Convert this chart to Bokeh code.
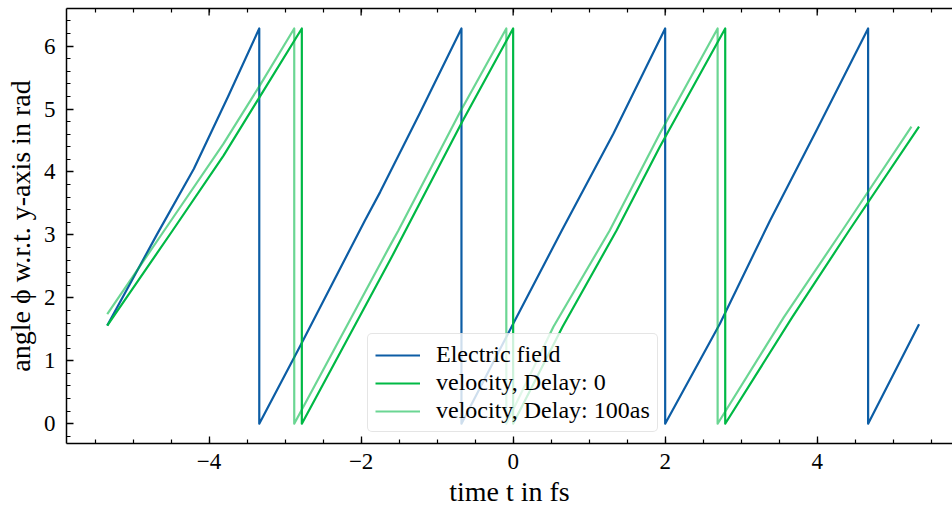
from bokeh.plotting import figure
from bokeh.models import (LinearAxis, FixedTicker, Legend, LegendItem, Range1d)
from bokeh.embed import file_html
from bokeh.resources import INLINE

# ---------------- data ----------------
# Electric field angle (rad) vs time (fs)
field_t = [-5.34, -4.68, -4.20, -3.75, -3.34, -3.34, -2.80, -1.95, -1.75, -1.23, -0.68,
           -0.68, -0.02, 0.64, 1.32, 2.00, 2.00, 2.72, 3.38, 3.99, 4.67, 4.67, 5.34]
field_phi = [1.56, 3.02, 4.05, 5.20, 6.28, 0.00, 1.24, 3.23, 3.68, 4.93, 6.28,
             0.00, 1.54, 3.07, 4.61, 6.28, 0.00, 1.59, 3.23, 4.66, 6.28, 0.00, 1.58]

# velocity angle, delay 0
vel0_t = [-5.34, -4.48, -3.81, -3.33, -2.78, -2.78, -1.61, -0.66, 0.00,
          0.00, 0.65, 1.36, 1.93, 2.79, 2.79, 3.67, 4.42, 5.34]
vel0_phi = [1.56, 3.07, 4.26, 5.20, 6.28, 0.00, 2.62, 4.82, 6.28,
            0.00, 1.54, 3.07, 4.40, 6.28, 0.00, 1.69, 3.07, 4.72]

# velocity angle, delay 100 as
vel100_t = [-5.34, -4.59, -3.81, -3.33, -2.88, -2.88, -1.62, -1.51, -0.70, -0.09,
            -0.09, 0.53, 1.27, 1.93, 2.69, 2.69, 3.56, 4.33, 5.24]
vel100_phi = [1.74, 3.07, 4.45, 5.38, 6.28, 0.00, 2.83, 3.07, 4.95, 6.28,
              0.00, 1.54, 3.07, 4.61, 6.28, 0.00, 1.69, 3.07, 4.72]

series_labels = ["Electric field", "velocity, Delay: 0", "velocity, Delay: 100as"]

x_major = [-4, -2, 0, 2, 4]
x_minor = [i * 0.5 for i in range(-12, 13)]
y_major = [0, 1, 2, 3, 4, 5, 6]
y_minor = [i * 0.2 for i in range(-2, 34)]

x_label_overrides = {-4: "\u22124", -2: "\u22122", 0: "0", 2: "2", 4: "4"}

x_title = "time t in fs"
y_title = "angle \u03d5 w.r.t. y-axis in rad"

# ---------------- styling ----------------
FONT = "Liberation Serif"
BLUE = "#0C5DA5"
GREEN = "#00B945"
Y_TOP = 6.597
MAJOR_TICK_PX = 7

p = figure(width=952, height=510, output_backend="svg", toolbar_location=None,
           x_range=Range1d(-5.876, 5.78), y_range=Range1d(-0.314, Y_TOP),
           x_axis_location=None, y_axis_location=None,
           min_border_left=66, min_border_right=0, min_border_top=8,
           min_border_bottom=67)
p.outline_line_color = None
p.xgrid.visible = False
p.ygrid.visible = False
p.background_fill_color = "white"
p.border_fill_color = "white"


def style_axis(ax):
    ax.axis_line_color = "black"
    ax.axis_line_width = 1.5
    ax.major_tick_line_color = "black"
    ax.minor_tick_line_color = "black"
    ax.major_tick_line_width = 1.3
    ax.minor_tick_line_width = 1.2
    ax.major_tick_in = MAJOR_TICK_PX
    ax.major_tick_out = 0
    ax.minor_tick_in = 4
    ax.minor_tick_out = 0
    ax.major_label_text_font = FONT
    ax.axis_label_text_font = FONT
    ax.axis_label_text_font_style = "normal"
    ax.major_label_text_color = "black"
    ax.axis_label_text_color = "black"
    ax.major_label_text_font_size = "23px"
    ax.axis_label_text_font_size = "28px"


xt = FixedTicker(ticks=x_major, minor_ticks=x_minor)
yt = FixedTicker(ticks=y_major, minor_ticks=y_minor)

xb = LinearAxis(ticker=xt, axis_label=x_title, major_label_overrides=x_label_overrides)
style_axis(xb)
xb.major_label_standoff = 10
xb.axis_label_standoff = 4
p.add_layout(xb, "below")

# top spine with inward minor ticks only (no labels)
xtop = LinearAxis(ticker=FixedTicker(ticks=[], minor_ticks=x_minor))
style_axis(xtop)
p.add_layout(xtop, "above")

yl = LinearAxis(ticker=yt, axis_label=y_title)
style_axis(yl)
yl.major_label_standoff = 11
yl.axis_label_standoff = 5
p.add_layout(yl, "left")

# longer major ticks along the top spine
tick_len = MAJOR_TICK_PX * (Y_TOP - (-0.314)) / (510 - 8 - 67)
p.segment(x0=x_major, y0=[Y_TOP] * len(x_major), x1=x_major,
          y1=[Y_TOP - tick_len] * len(x_major), line_color="black", line_width=1.3)

r1 = p.line(field_t, field_phi, line_color=BLUE, line_width=2.2, line_join="round")
r2 = p.line(vel0_t, vel0_phi, line_color=GREEN, line_width=2.2, line_join="round")
r3 = p.line(vel100_t, vel100_phi, line_color=GREEN, line_alpha=0.58, line_width=2.2,
            line_join="round")

legend = Legend(items=[LegendItem(label=series_labels[0], renderers=[r1]),
                       LegendItem(label=series_labels[1], renderers=[r2]),
                       LegendItem(label=series_labels[2], renderers=[r3])],
                location=(301, 11))
legend.label_text_font = FONT
legend.label_text_font_size = "24px"
legend.label_text_color = "black"
legend.glyph_width = 45
legend.glyph_height = 22
legend.label_height = 22
legend.label_standoff = 16
legend.spacing = 1
legend.padding = 7
legend.margin = 0
legend.border_line_color = "#cccccc"
legend.border_line_width = 1.5
legend.background_fill_color = "white"
legend.background_fill_alpha = 0.8
try:
    legend.border_radius = 5
except Exception:
    pass
p.add_layout(legend, "center")

open("out.html", "w").write(file_html(p, INLINE))
